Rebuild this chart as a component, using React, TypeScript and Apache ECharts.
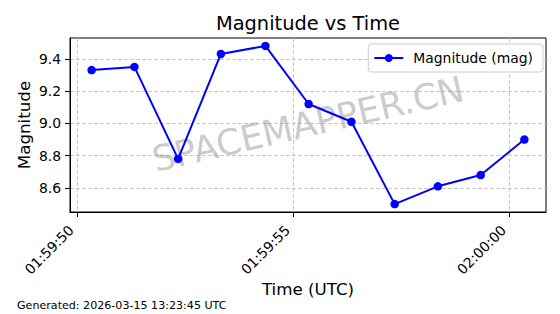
import React, { useEffect, useRef } from "react";
import * as echarts from "echarts";

// Data
const timeStamps: string[] = [
  "01:59:50.34", "01:59:51.33", "01:59:52.34", "01:59:53.33", "01:59:54.36",
  "01:59:55.36", "01:59:56.35", "01:59:57.35", "01:59:58.35", "01:59:59.34",
  "02:00:00.35",
];
const magnitudes: number[] = [9.33, 9.35, 8.78, 9.43, 9.48, 9.12, 9.01, 8.5, 8.61, 8.68, 8.9];
const xTickLabels: string[] = ["01:59:50", "01:59:55", "02:00:00"];
const yTickValues: number[] = [8.6, 8.8, 9.0, 9.2, 9.4];

const FONT = "DejaVu Sans";

function toSec(s: string): number {
  const [h, m, sec] = s.split(":");
  return Number(h) * 3600 + Number(m) * 60 + Number(sec);
}
function fmt(sec: number): string {
  const t = Math.round(sec);
  const h = Math.floor(t / 3600);
  const m = Math.floor((t % 3600) / 60);
  const s = t % 60;
  const p = (n: number) => String(n).padStart(2, "0");
  return `${p(h)}:${p(m)}:${p(s)}`;
}

export default function App() {
  const ref = useRef<HTMLDivElement>(null);
  useEffect(() => {
    if (!ref.current) return;
    const chart = echarts.init(ref.current, undefined, { renderer: "svg" });
    const xs = timeStamps.map(toSec);
    const xMin = Math.min(...xs);
    const xMax = Math.max(...xs);
    const xPad = (xMax - xMin) * 0.05;
    const yMin = Math.min(...magnitudes);
    const yMax = Math.max(...magnitudes);
    const yPad = (yMax - yMin) * 0.05;
    const xTicks = xTickLabels.map(toSec);
    const gridLeft = 70, gridRight = 14, gridTop = 38, gridBottom = 102;
    const cx = gridLeft + (560 - gridLeft - gridRight) / 2;
    const cy = gridTop + (314 - gridTop - gridBottom) / 2;

    chart.setOption({
      animation: false,
      grid: {
        left: gridLeft, right: gridRight, top: gridTop, bottom: gridBottom,
        show: true, borderColor: "#000", borderWidth: 1, backgroundColor: "transparent",
      },
      xAxis: {
        type: "value",
        min: xMin - xPad,
        max: xMax + xPad,
        axisLine: { show: true, lineStyle: { color: "#000", width: 1 } },
        axisTick: { show: true, length: 5, lineStyle: { color: "#000" }, customValues: xTicks },
        axisLabel: {
          customValues: xTicks,
          rotate: 45,
          margin: 10,
          fontSize: 13.9,
          fontFamily: FONT,
          color: "#000",
          padding: [0, 8, 0, 0],
          formatter: (v: number) => fmt(v),
        },
        splitLine: { show: true, lineStyle: { color: "#c8c8c8", type: [4, 2], width: 1 } },
      },
      yAxis: {
        type: "value",
        min: yMin - yPad,
        max: yMax + yPad,
        axisLine: { show: true, lineStyle: { color: "#000", width: 1 } },
        axisTick: { show: true, length: 5, lineStyle: { color: "#000" }, customValues: yTickValues },
        axisLabel: {
          customValues: yTickValues,
          margin: 9,
          fontSize: 13.9,
          fontFamily: FONT,
          color: "#000",
          formatter: (v: number) => v.toFixed(1),
        },
        splitLine: { show: true, lineStyle: { color: "#c8c8c8", type: [4, 2], width: 1 } },
      },
      legend: {
        right: 17,
        top: 44,
        padding: [7, 10, 7, 5],
        itemWidth: 29,
        itemHeight: 10,
        itemGap: 10,
        backgroundColor: "rgba(255,255,255,0.8)",
        borderColor: "#cccccc",
        borderWidth: 1,
        borderRadius: 3,
        textStyle: { fontSize: 13.9, fontFamily: FONT, color: "#000", padding: [0, 0, 0, 5] },
      },
      graphic: [
        {
          type: "text", x: cx, y: 23.5, z: 10,
          style: { text: "Magnitude vs Time", font: `19.4px "${FONT}"`, fill: "#000", textAlign: "center", textVerticalAlign: "middle" },
        },
        {
          type: "text", x: 24, y: cy, rotation: Math.PI / 2, z: 10,
          style: { text: "Magnitude", font: `16.7px "${FONT}"`, fill: "#000", textAlign: "center", textVerticalAlign: "middle" },
        },
        {
          type: "text", x: cx, y: 289, z: 10,
          style: { text: "Time (UTC)", font: `16.7px "${FONT}"`, fill: "#000", textAlign: "center", textVerticalAlign: "middle" },
        },
        {
          type: "text", x: 17, y: 305, z: 10,
          style: { text: "Generated: 2026-03-15 13:23:45 UTC", font: `11.1px "${FONT}"`, fill: "#000", textAlign: "left", textVerticalAlign: "middle" },
        },
        {
          type: "text", x: cx, y: cy - 1, rotation: (13 * Math.PI) / 180, z: 1,
          style: { text: "SPACEMAPPER.CN", font: `35.5px "${FONT}"`, fill: "rgba(128,128,128,0.42)", textAlign: "center", textVerticalAlign: "middle" },
        },
      ],
      series: [
        {
          name: "Magnitude (mag)",
          type: "line",
          data: xs.map((x, i) => [x, magnitudes[i]]),
          symbol: "circle",
          symbolSize: 8.5,
          z: 5,
          lineStyle: { color: "#0000ff", width: 2 },
          itemStyle: { color: "#0000ff" },
        },
      ],
    });
    return () => chart.dispose();
  }, []);
  return <div ref={ref} style={{ width: 560, height: 314, position: "absolute", left: 0, top: 0 }} />;
}
